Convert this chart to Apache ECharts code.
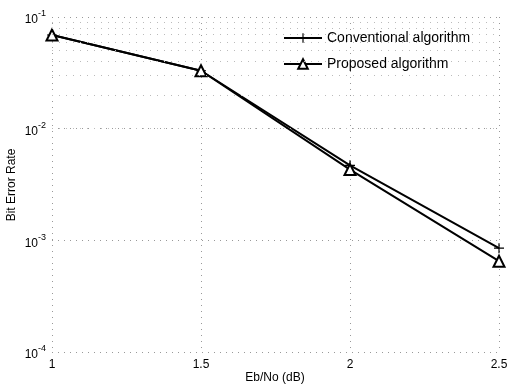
<!DOCTYPE html>
<html>
<head>
<meta charset="utf-8">
<script src="https://cdn.jsdelivr.net/npm/echarts@6/dist/echarts.min.js"></script>
<style>
  html, body { margin: 0; padding: 0; background: #fff; }
  #chart { width: 522px; height: 386px; }
</style>
</head>
<body>
<div id="chart"></div>
<script>
let ebno = [1, 1.5, 2, 2.5];
let conventional = [0.069, 0.033, 0.0047, 0.00085];
let proposed = [0.069, 0.033, 0.0043, 0.00065];
let seriesNames = ['Conventional algorithm', 'Proposed algorithm'];
let xTitle = 'Eb/No (dB)';
let yTitle = 'Bit Error Rate';

// minor log grid lines 2..9 x each decade
let minorLines = [];
for (let e = -4; e < -1; e++) {
    for (let m = 2; m <= 9; m++) {
        minorLines.push({ yAxis: m * Math.pow(10, e) });
    }
}

let plusPath = 'path://M4.4,0H5.6V4.4H10V5.6H5.6V10H4.4V5.6H0V4.4H4.4Z';

let myChart = echarts.init(document.getElementById('chart'));
let font = 'Liberation Sans';

let option = {
    backgroundColor: '#fff',
    animation: false,
    textStyle: { fontFamily: font, color: '#000' },
    grid: { left: 52, right: 23, top: 17, bottom: 34, outerBoundsMode: 'none', containLabel: false },
    graphic: [{
        type: 'text',
        x: 275,
        y: 378,
        style: { text: xTitle, font: '12px "Liberation Sans"', fill: '#000', align: 'center', verticalAlign: 'middle' }
    }, {
        type: 'text',
        x: 12,
        y: 185,
        rotation: Math.PI / 2,
        style: { text: yTitle, font: '12px "Liberation Sans"', fill: '#000', align: 'center', verticalAlign: 'middle' }
    }],
    legend: {
        left: 278,
        top: 26,
        orient: 'vertical',
        itemWidth: 38,
        itemHeight: 12,
        itemGap: 12,
        textStyle: { fontFamily: font, fontSize: 14, color: '#000' },
        data: seriesNames
    },
    xAxis: {
        type: 'value',
        min: 1,
        max: 2.5,
        interval: 0.5,
        axisLine: { show: false },
        axisTick: { show: false },
        axisLabel: { color: '#000', fontSize: 12, margin: 7 },
        splitLine: { show: true, lineStyle: { color: '#999', type: [1, 5], width: 1 } }
    },
    yAxis: {
        type: 'log',
        min: 0.0001,
        max: 0.1,
        logBase: 10,
        axisLine: { show: false },
        axisTick: { show: false },
        axisLabel: {
            color: '#000',
            margin: 6,
            formatter: function (v) {
                return '{b|10}{s|' + Math.round(Math.log10(v)) + '}';
            },
            rich: {
                b: { fontSize: 12, fontFamily: font, color: '#000', padding: [6, 0, 0, 0] },
                s: { fontSize: 9, fontFamily: font, color: '#000', padding: [0, 0, 6, 0] }
            }
        },
        splitLine: { show: true, lineStyle: { color: '#999', type: [1, 5], width: 1 } }
    },
    series: [{
        name: seriesNames[0],
        type: 'line',
        data: ebno.map((x, i) => [x, conventional[i]]),
        symbol: plusPath,
        symbolSize: 10,
        lineStyle: { color: '#000', width: 2 },
        itemStyle: { color: '#000' },
        markLine: {
            silent: true,
            symbol: 'none',
            label: { show: false },
            lineStyle: { color: '#bbb', type: [1, 6], width: 1 },
            data: minorLines
        }
    }, {
        name: seriesNames[1],
        type: 'line',
        data: ebno.map((x, i) => [x, proposed[i]]),
        symbol: 'triangle',
        symbolSize: 11,
        lineStyle: { color: '#000', width: 2 },
        itemStyle: { color: '#fff', borderColor: '#000', borderWidth: 2 }
    }]
};
myChart.setOption(option);
</script>
</body>
</html>
